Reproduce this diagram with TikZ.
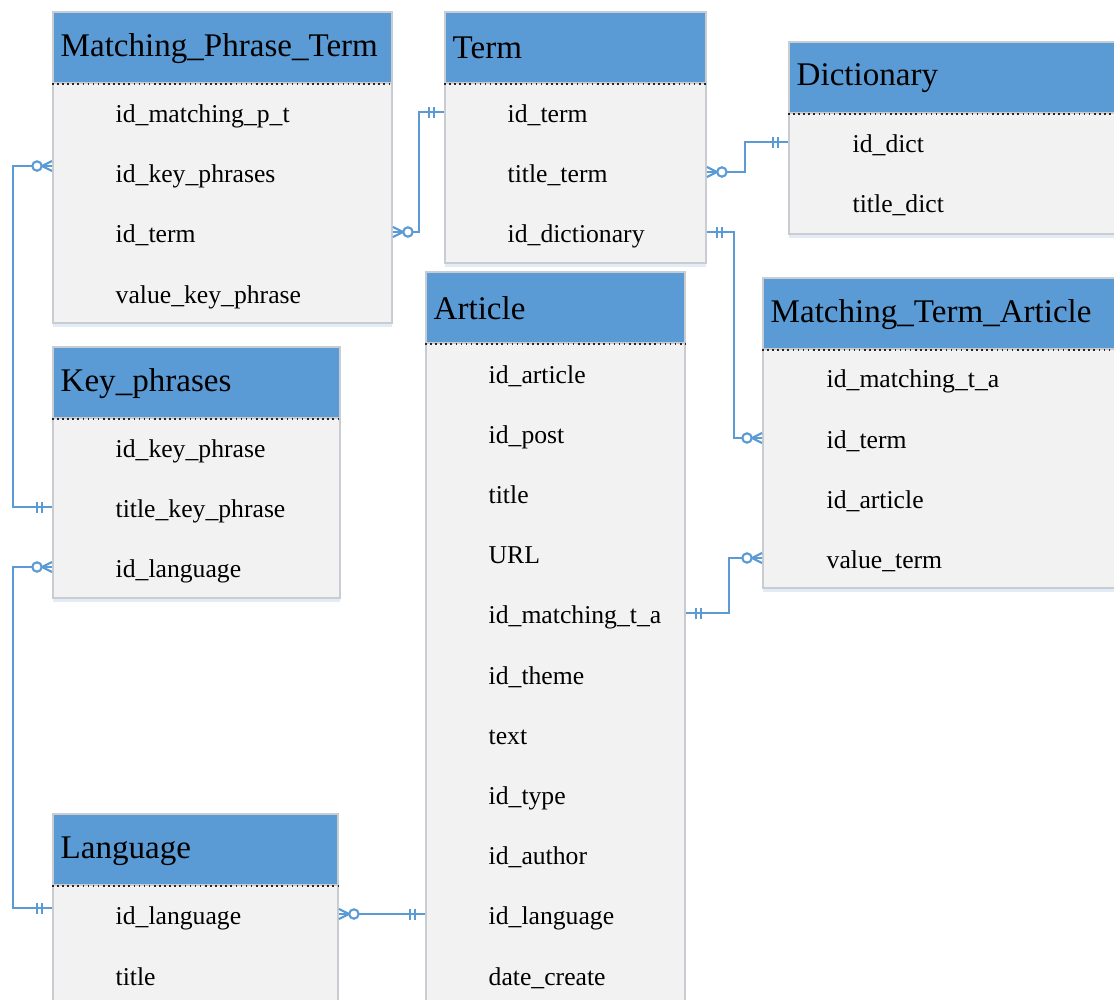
\documentclass[tikz,border=0pt]{standalone}
\usepackage{fontspec}
\setmainfont{Liberation Serif}
\usepackage{xcolor}
\usepackage{tikz}
\usetikzlibrary{positioning}

\definecolor{hdrblue}{HTML}{5B9BD5}
\definecolor{rowgray}{HTML}{F2F2F2}
\definecolor{edgegray}{HTML}{C9CDD2}
\definecolor{linkblue}{HTML}{5B9BD5}
\definecolor{shadeblue}{HTML}{E3ECF6}

\begin{document}
\begin{tikzpicture}[x=0.01cm, y=-0.01cm,
    tbl/.style={draw=edgegray, fill=rowgray, line width=0.5pt, anchor=north west,
      inner sep=0pt, preaction={fill=shadeblue, transform canvas={yshift=-1.2pt}}},
    hdr/.style={draw=edgegray, fill=hdrblue, line width=0.5pt, anchor=north west,
      inner sep=0pt, minimum height=0.71cm},
    ttl/.style={font=\fontsize{9.4}{11}\selectfont, anchor=west, inner sep=0pt,
      yshift=-0.6pt},
    fld/.style={font=\fontsize{7.3}{9}\selectfont, anchor=west, inner sep=0pt,
      text height=6.7pt, text depth=1pt},
    sep/.style={densely dotted, black!85, line width=0.45pt},
    link/.style={linkblue, line width=0.6pt},
    onlyone/.pic={\draw[link] (10,-5.5) -- (10,5.5) (15,-5.5) -- (15,5.5);},
    zeromany/.pic={\draw[link] (0,-5) -- (10,0) -- (0,5);
      \draw[link, fill=white] (15,0) circle (4.7);}
  ]
  \clip (0,0) rectangle (1114,1000);

  % ══ Matching_Phrase_Term ══════════════════════════════════════════════
  \node[tbl, minimum width=3.39cm, minimum height=3.11cm] (mpt) at (52,11) {};
  \node[hdr, minimum width=3.39cm] (mpt-h) at (52,11) {};
  \draw[sep] (mpt-h.south west) -- (mpt-h.south east);
  \node[ttl] (mpt-t) at (60,46) {Matching\_Phrase\_Term};
  \node[fld] (mpt-1) at (115,112) {id\_matching\_p\_t};
  \node[fld] (mpt-2) at (115,172) {id\_key\_phrases};
  \node[fld] (mpt-3) at (115,232) {id\_term};
  \node[fld] (mpt-4) at (115,293) {value\_key\_phrase};

  % ══ Term ══════════════════════════════════════════════════════════════
  \node[tbl, minimum width=2.61cm, minimum height=2.51cm] (term) at (444,11) {};
  \node[hdr, minimum width=2.61cm] (term-h) at (444,11) {};
  \draw[sep] (term-h.south west) -- (term-h.south east);
  \node[ttl] (term-t) at (452,46) {Term};
  \node[fld] (term-1) at (507,112) {id\_term};
  \node[fld] (term-2) at (507,172) {title\_term};
  \node[fld] (term-3) at (507,232) {id\_dictionary};

  % ══ Dictionary ════════════════════════════════════════════════════════
  \node[tbl, minimum width=3.6cm, minimum height=1.92cm] (dict) at (788,41) {};
  \node[hdr, minimum width=3.6cm] (dict-h) at (788,41) {};
  \draw[sep] (dict-h.south west) -- (dict-h.south east);
  \node[ttl] (dict-t) at (796,76) {Dictionary};
  \node[fld] (dict-1) at (852,142) {id\_dict};
  \node[fld] (dict-2) at (852,202) {title\_dict};

  % ══ Key_phrases ═══════════════════════════════════════════════════════
  \node[tbl, minimum width=2.87cm, minimum height=2.51cm] (kp) at (52,346) {};
  \node[hdr, minimum width=2.87cm] (kp-h) at (52,346) {};
  \draw[sep] (kp-h.south west) -- (kp-h.south east);
  \node[ttl] (kp-t) at (60,381) {Key\_phrases};
  \node[fld] (kp-1) at (115,447) {id\_key\_phrase};
  \node[fld] (kp-2) at (115,507) {title\_key\_phrase};
  \node[fld] (kp-3) at (115,567) {id\_language};

  % ══ Article ═══════════════════════════════════════════════════════════
  \node[tbl, minimum width=2.59cm, minimum height=7.6cm] (art) at (425,271) {};
  \node[hdr, minimum width=2.59cm] (art-h) at (425,271) {};
  \draw[sep] (art-h.south west) -- (art-h.south east);
  \node[ttl] (art-t) at (433,306) {Article};
  \node[fld] (art-1) at (488,373) {id\_article};
  \node[fld] (art-2) at (488,433) {id\_post};
  \node[fld] (art-3) at (488,493) {title};
  \node[fld] (art-4) at (488,553) {URL};
  \node[fld] (art-5) at (488,613) {id\_matching\_t\_a};
  \node[fld] (art-6) at (488,674) {id\_theme};
  \node[fld] (art-7) at (488,734) {text};
  \node[fld] (art-8) at (488,794) {id\_type};
  \node[fld] (art-9) at (488,854) {id\_author};
  \node[fld] (art-10) at (488,914) {id\_language};
  \node[fld] (art-11) at (488,975) {date\_create};

  % ══ Matching_Term_Article ═════════════════════════════════════════════
  \node[tbl, minimum width=3.8cm, minimum height=3.1cm] (mta) at (762,277) {};
  \node[hdr, minimum width=3.8cm] (mta-h) at (762,277) {};
  \draw[sep] (mta-h.south west) -- (mta-h.south east);
  \node[ttl] (mta-t) at (770,312) {Matching\_Term\_Article};
  \node[fld] (mta-1) at (826,377) {id\_matching\_t\_a};
  \node[fld] (mta-2) at (826,438) {id\_term};
  \node[fld] (mta-3) at (826,498) {id\_article};
  \node[fld] (mta-4) at (826,558) {value\_term};

  % ══ Language ══════════════════════════════════════════════════════════
  \node[tbl, minimum width=2.85cm, minimum height=2.2cm] (lang) at (52,813) {};
  \node[hdr, minimum width=2.85cm] (lang-h) at (52,813) {};
  \draw[sep] (lang-h.south west) -- (lang-h.south east);
  \node[ttl] (lang-t) at (60,849) {Language};
  \node[fld] (lang-1) at (115,914) {id\_language};
  \node[fld] (lang-2) at (115,975) {title};

  % ══ relations ═════════════════════════════════════════════════════════
  % phrase-term link -> term
  \draw[link] (mpt.east |- mpt-3) -- ++(26,0) |- (term.west |- term-1);
  \pic at (mpt.east |- mpt-3) {zeromany};
  \pic[xscale=-1] at (term.west |- term-1) {onlyone};

  % term -> dictionary
  \draw[link] (term.east |- term-2) -- ++(38,0) |- (dict.west |- dict-1);
  \pic at (term.east |- term-2) {zeromany};
  \pic[xscale=-1] at (dict.west |- dict-1) {onlyone};

  % term -> term-article link
  \draw[link] (term.east |- term-3) -- ++(27,0) |- (mta.west |- mta-2);
  \pic at (term.east |- term-3) {onlyone};
  \pic[xscale=-1] at (mta.west |- mta-2) {zeromany};

  % article -> term-article link
  \draw[link] (art.east |- art-5) -- ++(43,0) |- (mta.west |- mta-4);
  \pic at (art.east |- art-5) {onlyone};
  \pic[xscale=-1] at (mta.west |- mta-4) {zeromany};

  % phrase-term link -> key phrases
  \draw[link] ([yshift=1.7pt]mpt.west |- mpt-2) -- ++(-39,0) |- (kp.west |- kp-2);
  \pic[xscale=-1] at ([yshift=1.7pt]mpt.west |- mpt-2) {zeromany};
  \pic[xscale=-1] at (kp.west |- kp-2) {onlyone};

  % key phrases -> language
  \draw[link] (kp.west |- kp-3) -- ++(-39,0) |- ([yshift=1.7pt]lang.west |- lang-1);
  \pic[xscale=-1] at (kp.west |- kp-3) {zeromany};
  \pic[xscale=-1] at ([yshift=1.7pt]lang.west |- lang-1) {onlyone};

  % language -> article
  \draw[link] (lang.east |- lang-1) -- (art.west |- art-10);
  \pic at (lang.east |- lang-1) {zeromany};
  \pic[xscale=-1] at (art.west |- art-10) {onlyone};

\end{tikzpicture}
\end{document}
